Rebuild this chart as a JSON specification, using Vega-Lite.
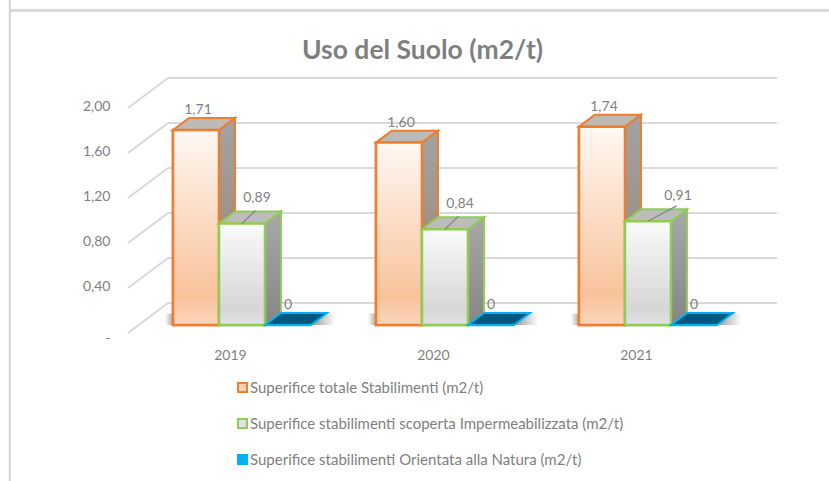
{
"$schema":"https://vega.github.io/schema/vega-lite/v6.json",
"width":829,"height":481,"padding":0,"autosize":{"type":"none"},
"background":"white",
"view":{"stroke":null},
"config":{"font":"Lato","view":{"stroke":null}},
"title":{"text":"Uso del Suolo (m2/t)","font":"Lato","fontSize":26.5,"fontWeight":"bold","color":"#7f7f7f","anchor":"middle","frame":"group","offset":-65,"dx":8},
"datasets":{
"bars":[
{"anno":2019,"serie":"Superifice totale Stabilimenti (m2/t)","valore":1.71},
{"anno":2019,"serie":"Superifice stabilimenti scoperta Impermeabilizzata (m2/t)","valore":0.89},
{"anno":2019,"serie":"Superifice stabilimenti Orientata alla Natura (m2/t)","valore":0},
{"anno":2020,"serie":"Superifice totale Stabilimenti (m2/t)","valore":1.60},
{"anno":2020,"serie":"Superifice stabilimenti scoperta Impermeabilizzata (m2/t)","valore":0.84},
{"anno":2020,"serie":"Superifice stabilimenti Orientata alla Natura (m2/t)","valore":0},
{"anno":2021,"serie":"Superifice totale Stabilimenti (m2/t)","valore":1.74},
{"anno":2021,"serie":"Superifice stabilimenti scoperta Impermeabilizzata (m2/t)","valore":0.91},
{"anno":2021,"serie":"Superifice stabilimenti Orientata alla Natura (m2/t)","valore":0}
],
"griglia":[{"v":0},{"v":0.4},{"v":0.8},{"v":1.2},{"v":1.6},{"v":2.0}]
},
"resolve":{"scale":{"y":"independent"}},
"layer":[
{"data":{"name":"griglia"},
 "mark":{"type":"point","opacity":0},
 "encoding":{
  "x":{"datum":2019,"type":"quantitative","scale":{"domain":[2017.867,2021.951],"nice":false,"zero":false},
    "axis":{"values":[2019,2020,2021],"format":"d","orient":"bottom","offset":-136,"domain":false,"ticks":false,"grid":false,"title":null,"labelPadding":3,"labelFontSize":14,"labelColor":"#7f7f7f","labelFont":"Lato"}},
  "y":{"field":"v","type":"quantitative","scale":{"domain":[-1.3422,2.9333],"nice":false,"zero":false},
    "axis":{"values":[0,0.4,0.8,1.2,1.6,2.0],"labelExpr":"datum.value==0?'-':replace(format(datum.value,'.2f'),'.',',')","orient":"left","offset":-128,"domain":false,"ticks":false,"grid":false,"title":null,"labelPadding":18,"labelFontSize":14,"labelColor":"#7f7f7f","labelFont":"Lato","labelOffset":{"expr":"datum.value==0?8:2"}}}
 }},
{"data":{"name":"griglia"},
 "transform":[{"calculate":"0.193+0.98684*datum.v","as":"w"},{"calculate":"datum.w-0.263","as":"wf"}],
 "encoding":{"y":{"type":"quantitative","scale":{"domain":[-1.3684,2.8509],"nice":false,"zero":false},"axis":null}},
 "layer":[
  {"mark":{"type":"rule","color":"#d9d9d9","strokeWidth":2},
   "encoding":{"x":{"datum":2018.6946,"type":"quantitative","scale":{"domain":[2017.867,2021.951]}},"x2":{"datum":2021.695},"y":{"field":"w","type":"quantitative"}}},
  {"mark":{"type":"rule","color":"#d9d9d9","strokeWidth":2},
   "encoding":{"x":{"datum":2018.4975,"type":"quantitative"},"x2":{"datum":2018.6946},"y":{"field":"wf","type":"quantitative"},"y2":{"field":"w"}}},
  {"mark":{"type":"rule","color":"#d9d9d9","strokeWidth":2},
   "encoding":{"x":{"datum":2017.916,"type":"quantitative"},"y":{"datum":-1.3684,"type":"quantitative"},"y2":{"datum":2.8509}}},
  {"mark":{"type":"rule","color":"#d9d9d9","strokeWidth":2},
   "encoding":{"x":{"datum":2017.916,"type":"quantitative"},"x2":{"datum":2021.951},"y":{"datum":2.7588,"type":"quantitative"}}}
 ]},
{"data":{"name":"bars"},
 "transform":[
  {"calculate":"indexof(['Superifice totale Stabilimenti (m2/t)','Superifice stabilimenti scoperta Impermeabilizzata (m2/t)','Superifice stabilimenti Orientata alla Natura (m2/t)'],datum.serie)","as":"i"},
  {"calculate":"datum.anno-0.2808+0.2266*datum.i","as":"xl"},
  {"calculate":"datum.xl+0.2266","as":"xr"},
  {"calculate":"0","as":"base"},
  {"calculate":"0","as":"a"},{"calculate":"1","as":"b"},
  {"fold":["a","b"],"as":["k","t"]},
  {"calculate":"datum.xr+datum.t*0.0788","as":"sx"},
  {"calculate":"datum.t*0.105","as":"sy0"},
  {"calculate":"datum.valore+datum.t*0.105","as":"sy1"},
  {"calculate":"datum.xl+datum.t*0.0788","as":"tx0"},
  {"calculate":"datum.xr+datum.t*0.0788","as":"tx1"}
 ],
 "encoding":{"y":{"type":"quantitative","scale":{"domain":[-1.3684,2.8509],"nice":false,"zero":false},"axis":null}},
 "layer":[
  {"transform":[{"filter":"datum.i==0&&datum.k=='a'"},{"calculate":"datum.xl-0.04","as":"s0"},{"calculate":"datum.xl+0.80","as":"s1"},{"calculate":"0.1","as":"st"}],
   "mark":{"type":"rect","fill":{"gradient":"linear","x1":0,"y1":0,"x2":1,"y2":0,"stops":[{"offset":0,"color":"#ffffff"},{"offset":0.05,"color":"#a6a6a6"},{"offset":0.88,"color":"#a6a6a6"},{"offset":1,"color":"#ffffff"}]},"stroke":null},
   "encoding":{"x":{"field":"s0","type":"quantitative"},"x2":{"field":"s1"},"y":{"field":"base","type":"quantitative"},"y2":{"field":"st"}}},

  {"transform":[{"filter":"datum.k=='a'"}],
   "mark":{"type":"rect","strokeWidth":2.5},
   "encoding":{"x":{"field":"xl","type":"quantitative"},"x2":{"field":"xr"},"y":{"field":"valore","type":"quantitative"},"y2":{"field":"base"},
    "fill":{"field":"serie","type":"nominal","sort":null,"scale":{"domain":["Superifice totale Stabilimenti (m2/t)","Superifice stabilimenti scoperta Impermeabilizzata (m2/t)","Superifice stabilimenti Orientata alla Natura (m2/t)"],"range":["#fad3b6","#e2e2e2","#00b0f0"]},
      "legend":{"orient":"none","legendX":235,"legendY":380,"title":null,"symbolType":"square","symbolSize":80,"symbolStrokeWidth":2,"labelFont":"Lato","labelFontSize":15,"labelColor":"#7f7f7f","rowPadding":19,"labelOffset":0,"labelLimit":500}},
    "stroke":{"field":"serie","type":"nominal","sort":null,"scale":{"domain":["Superifice totale Stabilimenti (m2/t)","Superifice stabilimenti scoperta Impermeabilizzata (m2/t)","Superifice stabilimenti Orientata alla Natura (m2/t)"],"range":["#ed7d31","#8fcc55","#00b0f0"]}}}},

  {"transform":[{"filter":"datum.i==0"}],
   "mark":{"type":"area","orient":"vertical","stroke":"#ed7d31","strokeWidth":2,"fill":{"gradient":"linear","x1":0,"y1":0,"x2":0,"y2":1,"stops":[{"offset":0,"color":"#a3a3a3"},{"offset":1,"color":"#9d8069"}]}},
   "encoding":{"x":{"field":"sx","type":"quantitative"},"y":{"field":"sy0","type":"quantitative","stack":null},"y2":{"field":"sy1"},"detail":{"field":"anno"}}},
  {"transform":[{"filter":"datum.i==0"}],
   "mark":{"type":"area","orient":"horizontal","stroke":"#ed7d31","strokeWidth":2,"fill":"#bdb9b5"},
   "encoding":{"y":{"field":"sy1","type":"quantitative"},"x":{"field":"tx0","type":"quantitative","stack":null},"x2":{"field":"tx1"},"detail":{"field":"anno"}}},
  {"transform":[{"filter":"datum.i==0&&datum.k=='a'"}],
   "mark":{"type":"rect","strokeWidth":2.5,"stroke":"#ed7d31","fill":{"gradient":"linear","x1":0,"y1":0,"x2":0,"y2":1,"stops":[{"offset":0,"color":"#fff8f3"},{"offset":0.85,"color":"#f8c39b"},{"offset":1,"color":"#fbd6bb"}]}},
   "encoding":{"x":{"field":"xl","type":"quantitative"},"x2":{"field":"xr"},"y":{"field":"valore","type":"quantitative"},"y2":{"field":"base"}}},

  {"transform":[{"filter":"datum.i==1"}],
   "mark":{"type":"area","orient":"vertical","stroke":"#8fcc55","strokeWidth":2,"fill":{"gradient":"linear","x1":0,"y1":0,"x2":0,"y2":1,"stops":[{"offset":0,"color":"#a8a8a8"},{"offset":1,"color":"#868686"}]}},
   "encoding":{"x":{"field":"sx","type":"quantitative"},"y":{"field":"sy0","type":"quantitative","stack":null},"y2":{"field":"sy1"},"detail":{"field":"anno"}}},
  {"transform":[{"filter":"datum.i==1"}],
   "mark":{"type":"area","orient":"horizontal","stroke":"#8fcc55","strokeWidth":2,"fill":"#bcbcbc"},
   "encoding":{"y":{"field":"sy1","type":"quantitative"},"x":{"field":"tx0","type":"quantitative","stack":null},"x2":{"field":"tx1"},"detail":{"field":"anno"}}},
  {"transform":[{"filter":"datum.i==1&&datum.k=='a'"}],
   "mark":{"type":"rect","strokeWidth":2.5,"stroke":"#8fcc55","fill":{"gradient":"linear","x1":0,"y1":0,"x2":0,"y2":1,"stops":[{"offset":0,"color":"#fafafa"},{"offset":0.85,"color":"#d6d6d6"},{"offset":1,"color":"#e2e2e2"}]}},
   "encoding":{"x":{"field":"xl","type":"quantitative"},"x2":{"field":"xr"},"y":{"field":"valore","type":"quantitative"},"y2":{"field":"base"}}},

  {"transform":[{"filter":"datum.i==2"}],
   "mark":{"type":"area","orient":"horizontal","stroke":"#00b0f0","strokeWidth":2,"fill":"#00587a"},
   "encoding":{"y":{"field":"sy1","type":"quantitative"},"x":{"field":"tx0","type":"quantitative","stack":null},"x2":{"field":"tx1"},"detail":{"field":"anno"}}},

  {"transform":[{"filter":"datum.k=='a'&&datum.i==1"},
    {"calculate":"datum.xl+0.1133","as":"l0"},
    {"calculate":"datum.l0+(datum.anno==2021?0.141:0.067)","as":"l1"},
    {"calculate":"datum.valore+(datum.anno==2021?0.135:0.115)","as":"l2"}],
   "mark":{"type":"rule","color":"#858585","strokeWidth":1.3},
   "encoding":{"x":{"field":"l0","type":"quantitative"},"x2":{"field":"l1"},"y":{"field":"valore","type":"quantitative"},"y2":{"field":"l2"}}},

  {"transform":[{"filter":"datum.k=='a'"},
    {"calculate":"datum.xl+0.1133+(datum.i==0?0.01:(datum.i==2?0:(datum.anno==2021?0.148:0.074)))","as":"lx"},
    {"calculate":"datum.valore+(datum.i==0?0.175:(datum.i==1?0.22:0.175))","as":"ly"},
    {"calculate":"datum.i==2?'0':replace(format(datum.valore,'.2f'),'.',',')","as":"etichetta"}],
   "mark":{"type":"text","font":"Lato","fontSize":14,"color":"#7f7f7f","baseline":"middle","align":"center"},
   "encoding":{"x":{"field":"lx","type":"quantitative"},"y":{"field":"ly","type":"quantitative"},"text":{"field":"etichetta"}}}
 ]}
]
}
